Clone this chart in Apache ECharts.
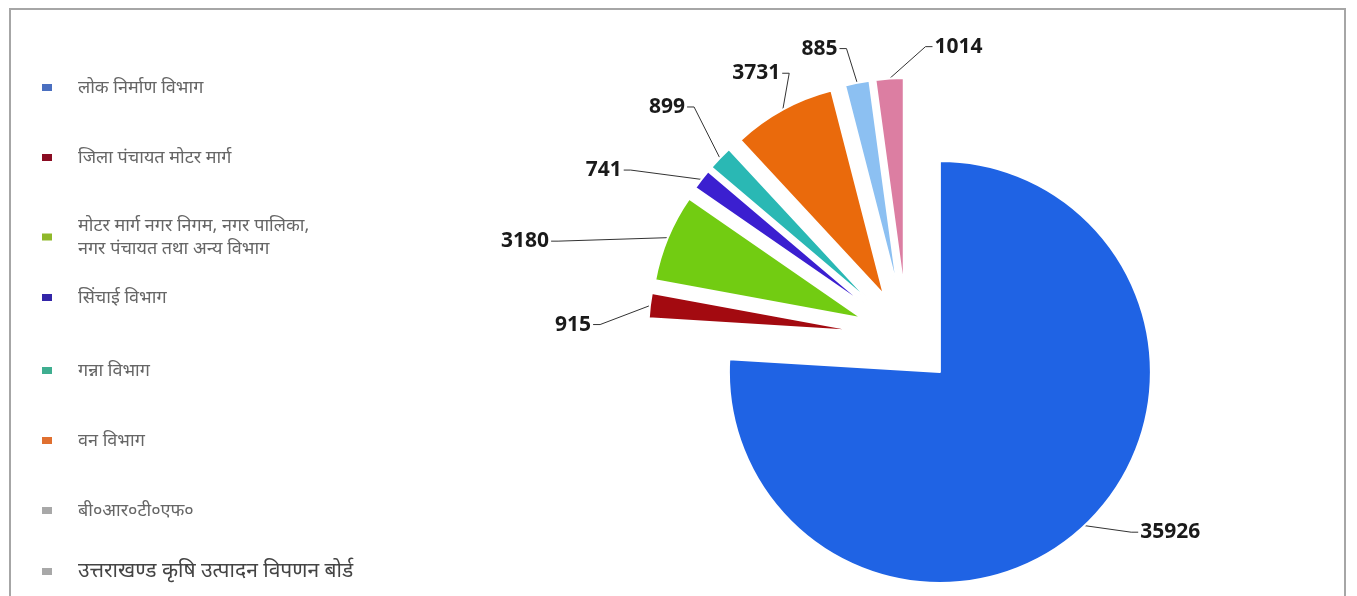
<!DOCTYPE html>
<html>
<head>
<meta charset="utf-8">
<script src="https://cdn.jsdelivr.net/npm/echarts@6/dist/echarts.min.js"></script>
<style>
  html, body { margin: 0; padding: 0; background: #fff; }
  #chart { width: 1357px; height: 596px; }
</style>
</head>
<body>
<div id="chart"></div>
<script>
// Road length by department
const categories = [
  'लोक निर्माण विभाग',
  'जिला पंचायत मोटर मार्ग',
  'मोटर मार्ग नगर निगम, नगर पालिका,\nनगर पंचायत तथा अन्य विभाग',
  'सिंचाई विभाग',
  'गन्ना विभाग',
  'वन विभाग',
  'बी०आर०टी०एफ०',
  'उत्तराखण्ड कृषि उत्पादन विपणन बोर्ड'
];
const values = [35926, 915, 3180, 741, 899, 3731, 885, 1014];
const sliceColors = ['#1f63e4', '#a30a10', '#72cc12', '#3b1fd0', '#2ab8b4', '#ea6a0c', '#8cc0f2', '#dc7ea2'];
const legendColors = ['#4a6fc0', '#8a0c22', '#8fb82a', '#3325a8', '#3fae90', '#e07030', '#a8a8a8', '#a8a8a8'];

const FONT = '"Noto Sans", "DejaVu Sans", sans-serif';

// one legend block per entry so each row sits on its own line
const legendTops = [71, 141, 209, 281, 354, 424, 494, 555];
const legends = categories.map((name, i) => ({
  orient: 'vertical',
  left: 35,
  top: legendTops[i],
  itemWidth: 12,
  itemHeight: 9,
  icon: 'rect',
  selectedMode: false,
  data: [{ name: name, itemStyle: { color: legendColors[i] } }],
  textStyle: {
    fontFamily: FONT,
    fontSize: i === 7 ? 21 : 18,
    color: i === 7 ? '#444' : '#666',
    lineHeight: 23,
    padding: [0, 0, 0, 20]
  }
}));

// leader line lengths per slice
const labelLines = [
  { length: 20, length2: 40 },
  { length: 25, length2: 40 },
  { length: 30, length2: 95 },
  { length: 40, length2: 65 },
  { length: 55, length2: 15 },
  { length: 45, length2: 12 },
  { length: 40, length2: 12 },
  { length: 30, length2: 40 }
];
// value label shifts away from the default spot
const labelNudge = [
  [0, -8], [8, 22], [6, 15], [19, 15], [22, -13], [33, 3], [2, 5], [137, -2]
];

const pieData = categories.map((name, i) => ({
  name: name,
  value: values[i],
  selected: true,
  itemStyle: { color: sliceColors[i] },
  labelLine: labelLines[i]
}));

// move a label and redraw its leader: slice edge -> short tick -> label side
function placeLabel(p) {
  const n = labelNudge[p.dataIndex];
  const r = p.labelRect;
  const pts = p.labelLinePoints;
  if (!pts || !pts.length) return { dx: n[0], dy: n[1] };
  const start = pts[0];
  const x = r.x + n[0], y = r.y + n[1];
  const cy = y + r.height / 2;
  const leftSide = x + r.width / 2 < start[0];
  const ax = leftSide ? x + r.width + 2 : x - 2;
  const tick = leftSide ? 7 : -7;
  return {
    dx: n[0],
    dy: n[1],
    labelLinePoints: [[start[0], start[1]], [ax + tick, cy], [ax, cy]]
  };
}

const chart = echarts.init(document.getElementById('chart'), null, { renderer: 'canvas' });
chart.setOption({
  backgroundColor: '#ffffff',
  animation: false,
  graphic: [{
    type: 'rect',
    shape: { x: 10, y: 9, width: 1335, height: 620 },
    style: { fill: 'none', stroke: '#a6a6a6', lineWidth: 2 }
  }],
  legend: legends,
  series: [{
    type: 'pie',
    center: [907, 337],
    radius: [0, 211],
    startAngle: 90,
    clockwise: true,
    selectedMode: 'multiple',
    selectedOffset: 48,
    avoidLabelOverlap: false,
    data: pieData,
    itemStyle: { borderColor: '#ffffff', borderWidth: 2 },
    label: {
      show: true,
      formatter: '{c}',
      fontFamily: FONT,
      fontSize: 21,
      fontWeight: 'bold',
      color: '#1a1a1a',
      distanceToLabelLine: 2
    },
    labelLine: { lineStyle: { color: '#333', width: 1 }, smooth: false },
    labelLayout: placeLabel,
    emphasis: { disabled: true }
  }]
});
</script>
</body>
</html>
